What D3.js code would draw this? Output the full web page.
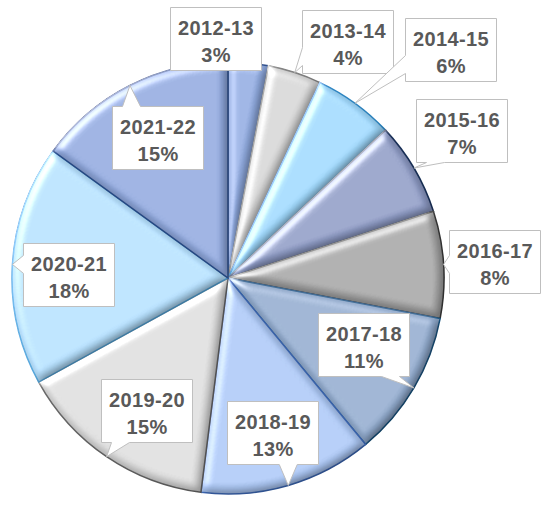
<!DOCTYPE html>
<html>
<head>
<meta charset="utf-8">
<script src="https://cdn.jsdelivr.net/npm/d3@7"></script>
<style>
  body { margin: 0; background: #fff; }
  svg { display: block; }
  .lbl { font-family: "Liberation Sans", Arial, sans-serif; font-weight: bold; font-size: 20px; letter-spacing: 0.4px; fill: #595959; }
</style>
</head>
<body>
<svg width="550" height="508"></svg>
<script>
// data
var years = ["2012-13", "2013-14", "2014-15", "2015-16", "2016-17", "2017-18", "2018-19", "2019-20", "2020-21", "2021-22"];
var shares = [3, 4, 6, 7, 8, 11, 13, 15, 18, 15];

// styling per slice
var fills = ["#8ca6da", "#cfcfcf", "#9bd3f6", "#8a97c0", "#a0a0a0", "#8da6c8", "#a7c2ee", "#d6d6d6", "#b0daf7", "#8ca4d8"];
var edges = ["#2f5597", "#7f7f7f", "#2e8fd0", "#1f3864", "#404040", "#1f5f8f", "#4472c4", "#6f6f6f", "#5ab0e8", "#2f5597"];
// label box centres, relative to the pie centre
var boxPos = [[-12, -239], [120, -236], [223, -228], [234, -147], [267, -16], [136, 67], [45, 155], [-81, 133], [-159, -3], [-70, -140]];

var svg = d3.select("svg"),
    cx = 228, cy = 278, radius = 216,
    g = svg.append("g").attr("transform", "translate(" + cx + "," + cy + ")");

// bevel look: diffuse shading darkens the far edges, specular adds the white streaks
var defs = svg.append("defs");
var f = defs.append("filter").attr("id", "bevel").attr("x", "-10%").attr("y", "-10%").attr("width", "120%").attr("height", "120%");
f.append("feGaussianBlur").attr("in", "SourceAlpha").attr("stdDeviation", 5).attr("result", "blur");
var diff = f.append("feDiffuseLighting").attr("in", "blur").attr("surfaceScale", 5)
    .attr("diffuseConstant", 1.12).attr("lighting-color", "#ffffff").attr("result", "diff");
diff.append("feDistantLight").attr("azimuth", 225).attr("elevation", 63);
f.append("feComposite").attr("in", "SourceGraphic").attr("in2", "diff").attr("operator", "arithmetic")
    .attr("k1", 1).attr("k2", 0).attr("k3", 0).attr("k4", 0).attr("result", "shaded");
var spec = f.append("feSpecularLighting").attr("in", "blur").attr("surfaceScale", 5)
    .attr("specularConstant", 0.9).attr("specularExponent", 16).attr("lighting-color", "#ffffff").attr("result", "spec");
spec.append("feDistantLight").attr("azimuth", 225).attr("elevation", 35);
f.append("feComposite").attr("in", "spec").attr("in2", "SourceAlpha").attr("operator", "in").attr("result", "specIn");
f.append("feComposite").attr("in", "shaded").attr("in2", "specIn").attr("operator", "arithmetic")
    .attr("k1", 0).attr("k2", 1).attr("k3", 0.7).attr("k4", 0);

var pie = d3.pie().sort(null).value(function(d) { return d; });
var arcs = pie(shares);
var arc = d3.arc().innerRadius(0).outerRadius(radius);

g.selectAll("path.slice")
  .data(arcs)
  .enter().append("path")
    .attr("class", "slice")
    .attr("d", arc)
    .style("fill", function(d, i) { return fills[i]; })
    .style("stroke", function(d, i) { return edges[i]; })
    .style("stroke-width", 1.5)
    .attr("filter", "url(#bevel)");

// callouts
var bw = 91, bh = 63, tail = 18;

function calloutPath(bx, by, tx, ty) {
  var x0 = bx - bw / 2, x1 = bx + bw / 2, y0 = by - bh / 2, y1 = by + bh / 2;
  var dx = (tx - bx) / (bw / 2), dy = (ty - by) / (bh / 2);
  if (Math.abs(dx) <= 1 && Math.abs(dy) <= 1) {
    return "M" + x0 + "," + y0 + "H" + x1 + "V" + y1 + "H" + x0 + "Z";
  }
  var p;
  if (Math.abs(dy) >= Math.abs(dx)) {
    var c = Math.max(x0 + 10 + tail / 2, Math.min(x1 - 10 - tail / 2, tx));
    if (dy > 0) {
      p = "M" + x0 + "," + y0 + "H" + x1 + "V" + y1 + "H" + (c + tail / 2) + "L" + tx + "," + ty + "L" + (c - tail / 2) + "," + y1 + "H" + x0 + "Z";
    } else {
      p = "M" + x0 + "," + y0 + "H" + (c - tail / 2) + "L" + tx + "," + ty + "L" + (c + tail / 2) + "," + y0 + "H" + x1 + "V" + y1 + "H" + x0 + "Z";
    }
  } else {
    var m = Math.max(y0 + 8 + tail / 2, Math.min(y1 - 8 - tail / 2, ty));
    if (dx > 0) {
      p = "M" + x0 + "," + y0 + "H" + x1 + "V" + (m - tail / 2) + "L" + tx + "," + ty + "L" + x1 + "," + (m + tail / 2) + "V" + y1 + "H" + x0 + "Z";
    } else {
      p = "M" + x0 + "," + y0 + "H" + x1 + "V" + y1 + "H" + x0 + "V" + (m + tail / 2) + "L" + tx + "," + ty + "L" + x0 + "," + (m - tail / 2) + "Z";
    }
  }
  return p;
}

var labels = g.selectAll("g.callout")
  .data(arcs)
  .enter().append("g")
    .attr("class", "callout");

labels.append("path")
    .attr("d", function(d, i) {
      var a = (d.startAngle + d.endAngle) / 2;
      var tx = radius * Math.sin(a), ty = -radius * Math.cos(a);
      return calloutPath(boxPos[i][0], boxPos[i][1], tx, ty);
    })
    .style("fill", "#fff")
    .style("stroke", "#bfbfbf")
    .style("stroke-width", 1);

labels.append("text")
    .attr("class", "lbl")
    .attr("text-anchor", "middle")
    .attr("x", function(d, i) { return boxPos[i][0]; })
    .attr("y", function(d, i) { return boxPos[i][1] - 4; })
    .text(function(d, i) { return years[i]; });

labels.append("text")
    .attr("class", "lbl")
    .attr("text-anchor", "middle")
    .attr("x", function(d, i) { return boxPos[i][0]; })
    .attr("y", function(d, i) { return boxPos[i][1] + 23; })
    .text(function(d) { return d.data + "%"; });
</script>
</body>
</html>
